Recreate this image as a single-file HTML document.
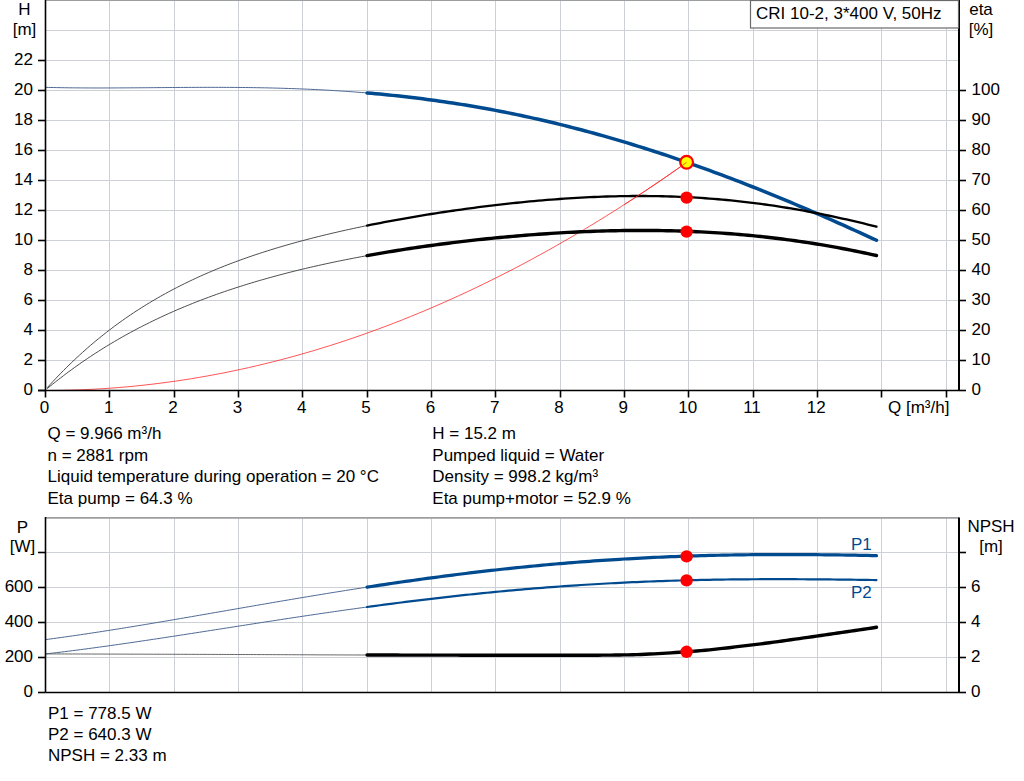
<!DOCTYPE html><html><head><meta charset="utf-8"><style>html,body{margin:0;padding:0;background:#fff;}svg{display:block}text{font-family:"Liberation Sans",sans-serif;font-size:17px;fill:#000}</style></head><body>
<svg width="1024" height="781" viewBox="0 0 1024 781">
<line x1="109.5" y1="0" x2="109.5" y2="390.5" stroke="#cdd0d4" stroke-width="1"/>
<line x1="174.5" y1="0" x2="174.5" y2="390.5" stroke="#cdd0d4" stroke-width="1"/>
<line x1="238.5" y1="0" x2="238.5" y2="390.5" stroke="#cdd0d4" stroke-width="1"/>
<line x1="302.5" y1="0" x2="302.5" y2="390.5" stroke="#cdd0d4" stroke-width="1"/>
<line x1="367.5" y1="0" x2="367.5" y2="390.5" stroke="#cdd0d4" stroke-width="1"/>
<line x1="431.5" y1="0" x2="431.5" y2="390.5" stroke="#cdd0d4" stroke-width="1"/>
<line x1="495.5" y1="0" x2="495.5" y2="390.5" stroke="#cdd0d4" stroke-width="1"/>
<line x1="560.5" y1="0" x2="560.5" y2="390.5" stroke="#cdd0d4" stroke-width="1"/>
<line x1="624.5" y1="0" x2="624.5" y2="390.5" stroke="#cdd0d4" stroke-width="1"/>
<line x1="688.5" y1="0" x2="688.5" y2="390.5" stroke="#cdd0d4" stroke-width="1"/>
<line x1="753.5" y1="0" x2="753.5" y2="390.5" stroke="#cdd0d4" stroke-width="1"/>
<line x1="817.5" y1="0" x2="817.5" y2="390.5" stroke="#cdd0d4" stroke-width="1"/>
<line x1="881.5" y1="0" x2="881.5" y2="390.5" stroke="#cdd0d4" stroke-width="1"/>
<line x1="946.5" y1="0" x2="946.5" y2="390.5" stroke="#cdd0d4" stroke-width="1"/>
<line x1="45.5" y1="360.5" x2="959.0" y2="360.5" stroke="#cdd0d4" stroke-width="1"/>
<line x1="45.5" y1="330.5" x2="959.0" y2="330.5" stroke="#cdd0d4" stroke-width="1"/>
<line x1="45.5" y1="300.5" x2="959.0" y2="300.5" stroke="#cdd0d4" stroke-width="1"/>
<line x1="45.5" y1="270.5" x2="959.0" y2="270.5" stroke="#cdd0d4" stroke-width="1"/>
<line x1="45.5" y1="240.5" x2="959.0" y2="240.5" stroke="#cdd0d4" stroke-width="1"/>
<line x1="45.5" y1="210.5" x2="959.0" y2="210.5" stroke="#cdd0d4" stroke-width="1"/>
<line x1="45.5" y1="180.5" x2="959.0" y2="180.5" stroke="#cdd0d4" stroke-width="1"/>
<line x1="45.5" y1="150.5" x2="959.0" y2="150.5" stroke="#cdd0d4" stroke-width="1"/>
<line x1="45.5" y1="120.5" x2="959.0" y2="120.5" stroke="#cdd0d4" stroke-width="1"/>
<line x1="45.5" y1="90.5" x2="959.0" y2="90.5" stroke="#cdd0d4" stroke-width="1"/>
<line x1="45.5" y1="60.5" x2="959.0" y2="60.5" stroke="#cdd0d4" stroke-width="1"/>
<line x1="45.5" y1="30.5" x2="959.0" y2="30.5" stroke="#cdd0d4" stroke-width="1"/>
<line x1="45.5" y1="0.5" x2="959.0" y2="0.5" stroke="#cdd0d4" stroke-width="1"/>
<line x1="45.5" y1="0.5" x2="959.0" y2="0.5" stroke="#9c9ea0" stroke-width="1"/>
<path d="M45.50,390.50 L53.61,390.46 L61.73,390.35 L69.84,390.17 L77.95,389.92 L86.07,389.59 L94.18,389.18 L102.30,388.71 L110.41,388.16 L118.52,387.54 L126.64,386.85 L134.75,386.08 L142.86,385.24 L150.98,384.33 L159.09,383.34 L167.21,382.28 L175.32,381.15 L183.43,379.94 L191.55,378.66 L199.66,377.31 L207.77,375.89 L215.89,374.39 L224.00,372.82 L232.11,371.17 L240.23,369.46 L248.34,367.67 L256.46,365.80 L264.57,363.87 L272.68,361.86 L280.80,359.78 L288.91,357.62 L297.02,355.39 L305.14,353.09 L313.25,350.72 L321.36,348.27 L329.48,345.75 L337.59,343.15 L345.71,340.49 L353.82,337.75 L361.93,334.93 L370.05,332.05 L378.16,329.09 L386.27,326.06 L394.39,322.95 L402.50,319.77 L410.62,316.52 L418.73,313.20 L426.84,309.80 L434.96,306.33 L443.07,302.79 L451.18,299.17 L459.30,295.48 L467.41,291.72 L475.52,287.88 L483.64,283.97 L491.75,279.99 L499.87,275.93 L507.98,271.81 L516.09,267.60 L524.21,263.33 L532.32,258.98 L540.43,254.56 L548.55,250.07 L556.66,245.50 L564.77,240.86 L572.89,236.15 L581.00,231.36 L589.12,226.51 L597.23,221.57 L605.34,216.57 L613.46,211.49 L621.57,206.34 L629.68,201.11 L637.80,195.82 L645.91,190.45 L654.03,185.00 L662.14,179.49 L670.25,173.90 L678.37,168.24 L686.48,162.50" fill="none" stroke="#ff2a2a" stroke-width="0.8"/>
<path d="M45.50,87.33 L48.20,87.41 L50.90,87.47 L53.61,87.53 L56.31,87.59 L59.01,87.64 L61.71,87.69 L64.42,87.73 L67.12,87.77 L69.82,87.80 L72.52,87.83 L75.23,87.86 L77.93,87.89 L80.63,87.91 L83.33,87.92 L86.04,87.94 L88.74,87.95 L91.44,87.96 L94.14,87.96 L96.85,87.97 L99.55,87.97 L102.25,87.97 L104.95,87.96 L107.65,87.96 L110.36,87.95 L113.06,87.94 L115.76,87.93 L118.46,87.92 L121.17,87.90 L123.87,87.89 L126.57,87.87 L129.27,87.85 L131.98,87.83 L134.68,87.82 L137.38,87.79 L140.08,87.77 L142.79,87.75 L145.49,87.73 L148.19,87.71 L150.89,87.69 L153.60,87.66 L156.30,87.64 L159.00,87.62 L161.70,87.60 L164.40,87.57 L167.11,87.55 L169.81,87.53 L172.51,87.51 L175.21,87.49 L177.92,87.47 L180.62,87.45 L183.32,87.44 L186.02,87.42 L188.73,87.41 L191.43,87.39 L194.13,87.38 L196.83,87.37 L199.54,87.36 L202.24,87.35 L204.94,87.35 L207.64,87.34 L210.35,87.34 L213.05,87.34 L215.75,87.34 L218.45,87.35 L221.15,87.36 L223.86,87.36 L226.56,87.38 L229.26,87.39 L231.96,87.41 L234.67,87.43 L237.37,87.45 L240.07,87.47 L242.77,87.50 L245.48,87.53 L248.18,87.56 L250.88,87.60 L253.58,87.64 L256.29,87.68 L258.99,87.73 L261.69,87.78 L264.39,87.83 L267.10,87.89 L269.80,87.95 L272.50,88.01 L275.20,88.08 L277.90,88.15 L280.61,88.22 L283.31,88.30 L286.01,88.38 L288.71,88.47 L291.42,88.56 L294.12,88.65 L296.82,88.75 L299.52,88.86 L302.23,88.96 L304.93,89.08 L307.63,89.19 L310.33,89.31 L313.04,89.44 L315.74,89.57 L318.44,89.70 L321.14,89.84 L323.85,89.98 L326.55,90.13 L329.25,90.29 L331.95,90.44 L334.65,90.61 L337.36,90.78 L340.06,90.95 L342.76,91.13 L345.46,91.31 L348.17,91.50 L350.87,91.69 L353.57,91.89 L356.27,92.09 L358.98,92.30 L361.68,92.51 L364.38,92.73 L367.08,92.96" fill="none" stroke="#4d6894" stroke-width="1.0" stroke-linecap="round" stroke-linejoin="round"/>
<path d="M367.08,92.96 L371.36,93.33 L375.64,93.71 L379.93,94.10 L384.21,94.51 L388.49,94.93 L392.77,95.37 L397.05,95.82 L401.33,96.29 L405.61,96.77 L409.89,97.27 L414.17,97.78 L418.45,98.30 L422.73,98.84 L427.01,99.40 L431.29,99.97 L435.57,100.55 L439.85,101.15 L444.13,101.77 L448.41,102.40 L452.69,103.05 L456.98,103.71 L461.26,104.39 L465.54,105.08 L469.82,105.79 L474.10,106.52 L478.38,107.26 L482.66,108.01 L486.94,108.79 L491.22,109.57 L495.50,110.38 L499.78,111.20 L504.06,112.04 L508.34,112.89 L512.62,113.76 L516.90,114.64 L521.18,115.54 L525.46,116.46 L529.75,117.39 L534.03,118.34 L538.31,119.30 L542.59,120.28 L546.87,121.28 L551.15,122.29 L555.43,123.31 L559.71,124.36 L563.99,125.42 L568.27,126.49 L572.55,127.58 L576.83,128.69 L581.11,129.81 L585.39,130.95 L589.67,132.10 L593.95,133.27 L598.23,134.45 L602.51,135.65 L606.80,136.87 L611.08,138.10 L615.36,139.35 L619.64,140.61 L623.92,141.88 L628.20,143.17 L632.48,144.48 L636.76,145.80 L641.04,147.13 L645.32,148.48 L649.60,149.85 L653.88,151.23 L658.16,152.62 L662.44,154.03 L666.72,155.45 L671.00,156.89 L675.28,158.34 L679.57,159.81 L683.85,161.29 L688.13,162.78 L692.41,164.28 L696.69,165.80 L700.97,167.34 L705.25,168.88 L709.53,170.44 L713.81,172.02 L718.09,173.60 L722.37,175.20 L726.65,176.82 L730.93,178.44 L735.21,180.08 L739.49,181.73 L743.77,183.39 L748.05,185.06 L752.33,186.75 L756.62,188.45 L760.90,190.16 L765.18,191.88 L769.46,193.61 L773.74,195.36 L778.02,197.11 L782.30,198.88 L786.58,200.66 L790.86,202.45 L795.14,204.25 L799.42,206.06 L803.70,207.88 L807.98,209.71 L812.26,211.55 L816.54,213.40 L820.82,215.26 L825.10,217.13 L829.39,219.01 L833.67,220.90 L837.95,222.80 L842.23,224.71 L846.51,226.62 L850.79,228.55 L855.07,230.48 L859.35,232.42 L863.63,234.38 L867.91,236.33 L872.19,238.30 L876.47,240.28" fill="none" stroke="#004a8f" stroke-width="3.5" stroke-linecap="round" stroke-linejoin="round"/>
<path d="M47.43,387.50 L50.12,384.55 L52.80,381.64 L55.49,378.78 L58.17,375.97 L60.86,373.19 L63.55,370.47 L66.23,367.78 L68.92,365.14 L71.60,362.54 L74.29,359.98 L76.98,357.47 L79.66,354.99 L82.35,352.55 L85.04,350.15 L87.72,347.79 L90.41,345.47 L93.09,343.18 L95.78,340.93 L98.47,338.72 L101.15,336.54 L103.84,334.40 L106.53,332.29 L109.21,330.21 L111.90,328.17 L114.58,326.16 L117.27,324.18 L119.96,322.23 L122.64,320.32 L125.33,318.43 L128.01,316.57 L130.70,314.75 L133.39,312.95 L136.07,311.18 L138.76,309.44 L141.45,307.73 L144.13,306.04 L146.82,304.38 L149.50,302.75 L152.19,301.14 L154.88,299.56 L157.56,298.00 L160.25,296.46 L162.93,294.96 L165.62,293.47 L168.31,292.01 L170.99,290.56 L173.68,289.15 L176.37,287.75 L179.05,286.37 L181.74,285.02 L184.42,283.69 L187.11,282.37 L189.80,281.08 L192.48,279.81 L195.17,278.55 L197.85,277.32 L200.54,276.10 L203.23,274.90 L205.91,273.72 L208.60,272.56 L211.29,271.41 L213.97,270.28 L216.66,269.17 L219.34,268.07 L222.03,266.99 L224.72,265.93 L227.40,264.88 L230.09,263.84 L232.77,262.82 L235.46,261.82 L238.15,260.83 L240.83,259.85 L243.52,258.89 L246.21,257.94 L248.89,257.00 L251.58,256.08 L254.26,255.16 L256.95,254.26 L259.64,253.38 L262.32,252.50 L265.01,251.64 L267.70,250.79 L270.38,249.94 L273.07,249.11 L275.75,248.29 L278.44,247.49 L281.13,246.69 L283.81,245.90 L286.50,245.12 L289.18,244.35 L291.87,243.59 L294.56,242.84 L297.24,242.10 L299.93,241.37 L302.62,240.65 L305.30,239.94 L307.99,239.23 L310.67,238.53 L313.36,237.85 L316.05,237.17 L318.73,236.49 L321.42,235.83 L324.10,235.17 L326.79,234.52 L329.48,233.88 L332.16,233.24 L334.85,232.62 L337.54,232.00 L340.22,231.38 L342.91,230.77 L345.59,230.17 L348.28,229.58 L350.97,228.99 L353.65,228.41 L356.34,227.83 L359.02,227.27 L361.71,226.70 L364.40,226.15 L367.08,225.59" fill="none" stroke="#383838" stroke-width="0.9" stroke-linecap="round" stroke-linejoin="round"/>
<path d="M47.43,388.38 L50.12,386.18 L52.80,384.01 L55.49,381.87 L58.17,379.76 L60.86,377.68 L63.55,375.63 L66.23,373.60 L68.92,371.60 L71.60,369.63 L74.29,367.68 L76.98,365.76 L79.66,363.87 L82.35,362.00 L85.04,360.15 L87.72,358.33 L90.41,356.54 L93.09,354.77 L95.78,353.02 L98.47,351.30 L101.15,349.60 L103.84,347.92 L106.53,346.26 L109.21,344.63 L111.90,343.02 L114.58,341.43 L117.27,339.86 L119.96,338.31 L122.64,336.78 L125.33,335.28 L128.01,333.79 L130.70,332.32 L133.39,330.88 L136.07,329.45 L138.76,328.04 L141.45,326.65 L144.13,325.28 L146.82,323.93 L149.50,322.59 L152.19,321.27 L154.88,319.97 L157.56,318.69 L160.25,317.43 L162.93,316.18 L165.62,314.94 L168.31,313.73 L170.99,312.53 L173.68,311.34 L176.37,310.17 L179.05,309.02 L181.74,307.88 L184.42,306.76 L187.11,305.65 L189.80,304.55 L192.48,303.47 L195.17,302.40 L197.85,301.35 L200.54,300.31 L203.23,299.29 L205.91,298.27 L208.60,297.27 L211.29,296.29 L213.97,295.31 L216.66,294.35 L219.34,293.40 L222.03,292.46 L224.72,291.54 L227.40,290.62 L230.09,289.72 L232.77,288.83 L235.46,287.95 L238.15,287.08 L240.83,286.22 L243.52,285.38 L246.21,284.54 L248.89,283.71 L251.58,282.90 L254.26,282.09 L256.95,281.30 L259.64,280.51 L262.32,279.73 L265.01,278.97 L267.70,278.21 L270.38,277.46 L273.07,276.72 L275.75,275.99 L278.44,275.27 L281.13,274.55 L283.81,273.85 L286.50,273.15 L289.18,272.46 L291.87,271.78 L294.56,271.11 L297.24,270.45 L299.93,269.79 L302.62,269.14 L305.30,268.50 L307.99,267.87 L310.67,267.24 L313.36,266.63 L316.05,266.01 L318.73,265.41 L321.42,264.81 L324.10,264.22 L326.79,263.64 L329.48,263.06 L332.16,262.49 L334.85,261.93 L337.54,261.37 L340.22,260.82 L342.91,260.28 L345.59,259.74 L348.28,259.21 L350.97,258.68 L353.65,258.16 L356.34,257.65 L359.02,257.14 L361.71,256.63 L364.40,256.14 L367.08,255.65" fill="none" stroke="#383838" stroke-width="0.9" stroke-linecap="round" stroke-linejoin="round"/>
<path d="M367.08,225.59 L371.36,224.73 L375.64,223.88 L379.93,223.04 L384.21,222.21 L388.49,221.40 L392.77,220.61 L397.05,219.82 L401.33,219.05 L405.61,218.29 L409.89,217.55 L414.17,216.81 L418.45,216.09 L422.73,215.38 L427.01,214.68 L431.29,214.00 L435.57,213.32 L439.85,212.66 L444.13,212.01 L448.41,211.37 L452.69,210.74 L456.98,210.13 L461.26,209.52 L465.54,208.93 L469.82,208.35 L474.10,207.78 L478.38,207.22 L482.66,206.67 L486.94,206.14 L491.22,205.62 L495.50,205.11 L499.78,204.61 L504.06,204.12 L508.34,203.65 L512.62,203.19 L516.90,202.74 L521.18,202.30 L525.46,201.88 L529.75,201.47 L534.03,201.07 L538.31,200.69 L542.59,200.32 L546.87,199.96 L551.15,199.62 L555.43,199.29 L559.71,198.98 L563.99,198.68 L568.27,198.39 L572.55,198.12 L576.83,197.87 L581.11,197.63 L585.39,197.40 L589.67,197.20 L593.95,197.00 L598.23,196.83 L602.51,196.67 L606.80,196.52 L611.08,196.39 L615.36,196.28 L619.64,196.19 L623.92,196.12 L628.20,196.06 L632.48,196.02 L636.76,196.00 L641.04,195.99 L645.32,196.01 L649.60,196.04 L653.88,196.09 L658.16,196.16 L662.44,196.25 L666.72,196.36 L671.00,196.49 L675.28,196.64 L679.57,196.80 L683.85,196.99 L688.13,197.20 L692.41,197.43 L696.69,197.68 L700.97,197.95 L705.25,198.24 L709.53,198.55 L713.81,198.88 L718.09,199.23 L722.37,199.60 L726.65,200.00 L730.93,200.41 L735.21,200.85 L739.49,201.31 L743.77,201.79 L748.05,202.29 L752.33,202.81 L756.62,203.35 L760.90,203.92 L765.18,204.50 L769.46,205.11 L773.74,205.73 L778.02,206.38 L782.30,207.05 L786.58,207.74 L790.86,208.45 L795.14,209.18 L799.42,209.93 L803.70,210.71 L807.98,211.50 L812.26,212.31 L816.54,213.14 L820.82,213.99 L825.10,214.86 L829.39,215.75 L833.67,216.65 L837.95,217.58 L842.23,218.52 L846.51,219.48 L850.79,220.46 L855.07,221.45 L859.35,222.46 L863.63,223.48 L867.91,224.52 L872.19,225.58 L876.47,226.65" fill="none" stroke="#000" stroke-width="2.3" stroke-linecap="round" stroke-linejoin="round"/>
<path d="M367.08,255.65 L371.36,254.88 L375.64,254.12 L379.93,253.38 L384.21,252.65 L388.49,251.93 L392.77,251.22 L397.05,250.53 L401.33,249.86 L405.61,249.19 L409.89,248.54 L414.17,247.90 L418.45,247.27 L422.73,246.65 L427.01,246.05 L431.29,245.45 L435.57,244.87 L439.85,244.30 L444.13,243.74 L448.41,243.20 L452.69,242.66 L456.98,242.14 L461.26,241.62 L465.54,241.12 L469.82,240.63 L474.10,240.15 L478.38,239.68 L482.66,239.22 L486.94,238.78 L491.22,238.34 L495.50,237.92 L499.78,237.50 L504.06,237.10 L508.34,236.71 L512.62,236.33 L516.90,235.96 L521.18,235.60 L525.46,235.25 L529.75,234.92 L534.03,234.59 L538.31,234.28 L542.59,233.98 L546.87,233.69 L551.15,233.41 L555.43,233.15 L559.71,232.89 L563.99,232.65 L568.27,232.42 L572.55,232.20 L576.83,232.00 L581.11,231.80 L585.39,231.62 L589.67,231.45 L593.95,231.30 L598.23,231.15 L602.51,231.02 L606.80,230.91 L611.08,230.80 L615.36,230.71 L619.64,230.63 L623.92,230.57 L628.20,230.52 L632.48,230.48 L636.76,230.46 L641.04,230.45 L645.32,230.46 L649.60,230.48 L653.88,230.52 L658.16,230.56 L662.44,230.63 L666.72,230.71 L671.00,230.80 L675.28,230.91 L679.57,231.04 L683.85,231.18 L688.13,231.34 L692.41,231.51 L696.69,231.70 L700.97,231.90 L705.25,232.12 L709.53,232.36 L713.81,232.61 L718.09,232.88 L722.37,233.17 L726.65,233.47 L730.93,233.79 L735.21,234.13 L739.49,234.49 L743.77,234.86 L748.05,235.25 L752.33,235.66 L756.62,236.08 L760.90,236.53 L765.18,236.99 L769.46,237.47 L773.74,237.96 L778.02,238.48 L782.30,239.02 L786.58,239.57 L790.86,240.14 L795.14,240.73 L799.42,241.34 L803.70,241.96 L807.98,242.61 L812.26,243.28 L816.54,243.96 L820.82,244.66 L825.10,245.38 L829.39,246.12 L833.67,246.88 L837.95,247.66 L842.23,248.46 L846.51,249.28 L850.79,250.11 L855.07,250.97 L859.35,251.84 L863.63,252.74 L867.91,253.65 L872.19,254.58 L876.47,255.53" fill="none" stroke="#000" stroke-width="3.4" stroke-linecap="round" stroke-linejoin="round"/>
<line x1="45.5" y1="0" x2="45.5" y2="397.5" stroke="#000" stroke-width="1.6"/>
<line x1="38" y1="390.5" x2="959.0" y2="390.5" stroke="#000" stroke-width="1.6"/>
<line x1="959.0" y1="0" x2="959.0" y2="390.5" stroke="#000" stroke-width="2"/>
<line x1="38" y1="390.5" x2="45.5" y2="390.5" stroke="#000" stroke-width="1.6"/>
<line x1="38" y1="360.5" x2="45.5" y2="360.5" stroke="#000" stroke-width="1.6"/>
<line x1="38" y1="330.5" x2="45.5" y2="330.5" stroke="#000" stroke-width="1.6"/>
<line x1="38" y1="300.5" x2="45.5" y2="300.5" stroke="#000" stroke-width="1.6"/>
<line x1="38" y1="270.5" x2="45.5" y2="270.5" stroke="#000" stroke-width="1.6"/>
<line x1="38" y1="240.5" x2="45.5" y2="240.5" stroke="#000" stroke-width="1.6"/>
<line x1="38" y1="210.5" x2="45.5" y2="210.5" stroke="#000" stroke-width="1.6"/>
<line x1="38" y1="180.5" x2="45.5" y2="180.5" stroke="#000" stroke-width="1.6"/>
<line x1="38" y1="150.5" x2="45.5" y2="150.5" stroke="#000" stroke-width="1.6"/>
<line x1="38" y1="120.5" x2="45.5" y2="120.5" stroke="#000" stroke-width="1.6"/>
<line x1="38" y1="90.5" x2="45.5" y2="90.5" stroke="#000" stroke-width="1.6"/>
<line x1="38" y1="60.5" x2="45.5" y2="60.5" stroke="#000" stroke-width="1.6"/>
<line x1="959.0" y1="390.5" x2="966" y2="390.5" stroke="#000" stroke-width="1.6"/>
<line x1="959.0" y1="360.5" x2="966" y2="360.5" stroke="#000" stroke-width="1.6"/>
<line x1="959.0" y1="330.5" x2="966" y2="330.5" stroke="#000" stroke-width="1.6"/>
<line x1="959.0" y1="300.5" x2="966" y2="300.5" stroke="#000" stroke-width="1.6"/>
<line x1="959.0" y1="270.5" x2="966" y2="270.5" stroke="#000" stroke-width="1.6"/>
<line x1="959.0" y1="240.5" x2="966" y2="240.5" stroke="#000" stroke-width="1.6"/>
<line x1="959.0" y1="210.5" x2="966" y2="210.5" stroke="#000" stroke-width="1.6"/>
<line x1="959.0" y1="180.5" x2="966" y2="180.5" stroke="#000" stroke-width="1.6"/>
<line x1="959.0" y1="150.5" x2="966" y2="150.5" stroke="#000" stroke-width="1.6"/>
<line x1="959.0" y1="120.5" x2="966" y2="120.5" stroke="#000" stroke-width="1.6"/>
<line x1="959.0" y1="90.5" x2="966" y2="90.5" stroke="#000" stroke-width="1.6"/>
<line x1="109.5" y1="390.5" x2="109.5" y2="397.5" stroke="#000" stroke-width="1.6"/>
<line x1="174.5" y1="390.5" x2="174.5" y2="397.5" stroke="#000" stroke-width="1.6"/>
<line x1="238.5" y1="390.5" x2="238.5" y2="397.5" stroke="#000" stroke-width="1.6"/>
<line x1="302.5" y1="390.5" x2="302.5" y2="397.5" stroke="#000" stroke-width="1.6"/>
<line x1="367.5" y1="390.5" x2="367.5" y2="397.5" stroke="#000" stroke-width="1.6"/>
<line x1="431.5" y1="390.5" x2="431.5" y2="397.5" stroke="#000" stroke-width="1.6"/>
<line x1="495.5" y1="390.5" x2="495.5" y2="397.5" stroke="#000" stroke-width="1.6"/>
<line x1="560.5" y1="390.5" x2="560.5" y2="397.5" stroke="#000" stroke-width="1.6"/>
<line x1="624.5" y1="390.5" x2="624.5" y2="397.5" stroke="#000" stroke-width="1.6"/>
<line x1="688.5" y1="390.5" x2="688.5" y2="397.5" stroke="#000" stroke-width="1.6"/>
<line x1="753.5" y1="390.5" x2="753.5" y2="397.5" stroke="#000" stroke-width="1.6"/>
<line x1="817.5" y1="390.5" x2="817.5" y2="397.5" stroke="#000" stroke-width="1.6"/>
<line x1="881.5" y1="390.5" x2="881.5" y2="397.5" stroke="#000" stroke-width="1.6"/>
<line x1="946.5" y1="390.5" x2="946.5" y2="397.5" stroke="#000" stroke-width="1.6"/>
<text x="33" y="395.0" text-anchor="end">0</text>
<text x="33" y="365.0" text-anchor="end">2</text>
<text x="33" y="335.0" text-anchor="end">4</text>
<text x="33" y="305.0" text-anchor="end">6</text>
<text x="33" y="275.0" text-anchor="end">8</text>
<text x="33" y="245.0" text-anchor="end">10</text>
<text x="33" y="215.0" text-anchor="end">12</text>
<text x="33" y="185.0" text-anchor="end">14</text>
<text x="33" y="155.0" text-anchor="end">16</text>
<text x="33" y="125.0" text-anchor="end">18</text>
<text x="33" y="95.0" text-anchor="end">20</text>
<text x="33" y="65.0" text-anchor="end">22</text>
<text x="24.5" y="14.8" text-anchor="middle">H</text>
<text x="24.5" y="34.5" text-anchor="middle">[m]</text>
<text x="971.5" y="395.0">0</text>
<text x="971.5" y="365.0">10</text>
<text x="971.5" y="335.0">20</text>
<text x="971.5" y="305.0">30</text>
<text x="971.5" y="275.0">40</text>
<text x="971.5" y="245.0">50</text>
<text x="971.5" y="215.0">60</text>
<text x="971.5" y="185.0">70</text>
<text x="971.5" y="155.0">80</text>
<text x="971.5" y="125.0">90</text>
<text x="971.5" y="95.0">100</text>
<text x="981" y="14.8" text-anchor="middle">eta</text>
<text x="981" y="34.5" text-anchor="middle">[%]</text>
<text x="44.5" y="412.5" text-anchor="middle">0</text>
<text x="108.8" y="412.5" text-anchor="middle">1</text>
<text x="173.1" y="412.5" text-anchor="middle">2</text>
<text x="237.4" y="412.5" text-anchor="middle">3</text>
<text x="301.8" y="412.5" text-anchor="middle">4</text>
<text x="366.1" y="412.5" text-anchor="middle">5</text>
<text x="430.4" y="412.5" text-anchor="middle">6</text>
<text x="494.7" y="412.5" text-anchor="middle">7</text>
<text x="559.0" y="412.5" text-anchor="middle">8</text>
<text x="623.3" y="412.5" text-anchor="middle">9</text>
<text x="687.7" y="412.5" text-anchor="middle">10</text>
<text x="752.0" y="412.5" text-anchor="middle">11</text>
<text x="816.3" y="412.5" text-anchor="middle">12</text>
<text x="888" y="412.5">Q [m³/h]</text>
<rect x="750.5" y="0.5" width="208" height="27.5" fill="#fff" stroke="#6a6a6a" stroke-width="1.2"/>
<text x="756" y="18.75">CRI 10-2, 3*400 V, 50Hz</text>
<circle cx="686.6" cy="162.3" r="6.4" fill="#ffff00" stroke="#ff0000" stroke-width="2.2"/>
<path d="M624.35,204.56 L627.62,202.45 L630.89,200.33 L634.16,198.20 L637.43,196.06 L640.70,193.91 L643.97,191.74 L647.24,189.56 L650.51,187.37 L653.78,185.17 L657.05,182.96 L660.32,180.73 L663.59,178.49 L666.86,176.24 L670.13,173.98 L673.40,171.71 L676.67,169.43 L679.94,167.13 L683.21,164.82 L686.48,162.50" fill="none" stroke="#ff2a2a" stroke-width="0.8"/>
<circle cx="686.6" cy="197.6" r="6.2" fill="#ff0000"/>
<circle cx="686.6" cy="231.6" r="6.2" fill="#ff0000"/>
<text x="47.5" y="439.3">Q = 9.966 m³/h</text>
<text x="47.5" y="460.8">n = 2881 rpm</text>
<text x="47.5" y="482.3">Liquid temperature during operation = 20 °C</text>
<text x="47.5" y="503.8">Eta pump = 64.3 %</text>
<text x="432.3" y="439.3">H = 15.2 m</text>
<text x="432.3" y="460.8">Pumped liquid = Water</text>
<text x="432.3" y="482.3">Density = 998.2 kg/m³</text>
<text x="432.3" y="503.8">Eta pump+motor = 52.9 %</text>
<line x1="109.5" y1="517.5" x2="109.5" y2="692.5" stroke="#cdd0d4" stroke-width="1"/>
<line x1="174.5" y1="517.5" x2="174.5" y2="692.5" stroke="#cdd0d4" stroke-width="1"/>
<line x1="238.5" y1="517.5" x2="238.5" y2="692.5" stroke="#cdd0d4" stroke-width="1"/>
<line x1="302.5" y1="517.5" x2="302.5" y2="692.5" stroke="#cdd0d4" stroke-width="1"/>
<line x1="367.5" y1="517.5" x2="367.5" y2="692.5" stroke="#cdd0d4" stroke-width="1"/>
<line x1="431.5" y1="517.5" x2="431.5" y2="692.5" stroke="#cdd0d4" stroke-width="1"/>
<line x1="495.5" y1="517.5" x2="495.5" y2="692.5" stroke="#cdd0d4" stroke-width="1"/>
<line x1="560.5" y1="517.5" x2="560.5" y2="692.5" stroke="#cdd0d4" stroke-width="1"/>
<line x1="624.5" y1="517.5" x2="624.5" y2="692.5" stroke="#cdd0d4" stroke-width="1"/>
<line x1="688.5" y1="517.5" x2="688.5" y2="692.5" stroke="#cdd0d4" stroke-width="1"/>
<line x1="753.5" y1="517.5" x2="753.5" y2="692.5" stroke="#cdd0d4" stroke-width="1"/>
<line x1="817.5" y1="517.5" x2="817.5" y2="692.5" stroke="#cdd0d4" stroke-width="1"/>
<line x1="881.5" y1="517.5" x2="881.5" y2="692.5" stroke="#cdd0d4" stroke-width="1"/>
<line x1="946.5" y1="517.5" x2="946.5" y2="692.5" stroke="#cdd0d4" stroke-width="1"/>
<line x1="45.5" y1="657.5" x2="959.0" y2="657.5" stroke="#cdd0d4" stroke-width="1"/>
<line x1="45.5" y1="622.5" x2="959.0" y2="622.5" stroke="#cdd0d4" stroke-width="1"/>
<line x1="45.5" y1="587.5" x2="959.0" y2="587.5" stroke="#cdd0d4" stroke-width="1"/>
<line x1="45.5" y1="552.5" x2="959.0" y2="552.5" stroke="#cdd0d4" stroke-width="1"/>
<line x1="45.5" y1="517.9" x2="959.0" y2="517.9" stroke="#9c9ea0" stroke-width="1.6"/>
<path d="M45.50,639.62 L48.20,639.27 L50.90,638.90 L53.61,638.54 L56.31,638.17 L59.01,637.80 L61.71,637.42 L64.42,637.04 L67.12,636.66 L69.82,636.28 L72.52,635.89 L75.23,635.50 L77.93,635.10 L80.63,634.71 L83.33,634.31 L86.04,633.90 L88.74,633.50 L91.44,633.09 L94.14,632.68 L96.85,632.27 L99.55,631.85 L102.25,631.43 L104.95,631.01 L107.65,630.59 L110.36,630.17 L113.06,629.74 L115.76,629.31 L118.46,628.88 L121.17,628.44 L123.87,628.01 L126.57,627.57 L129.27,627.13 L131.98,626.69 L134.68,626.25 L137.38,625.81 L140.08,625.36 L142.79,624.91 L145.49,624.47 L148.19,624.02 L150.89,623.56 L153.60,623.11 L156.30,622.66 L159.00,622.20 L161.70,621.75 L164.40,621.29 L167.11,620.83 L169.81,620.37 L172.51,619.91 L175.21,619.45 L177.92,618.98 L180.62,618.52 L183.32,618.06 L186.02,617.59 L188.73,617.13 L191.43,616.66 L194.13,616.19 L196.83,615.73 L199.54,615.26 L202.24,614.79 L204.94,614.32 L207.64,613.85 L210.35,613.39 L213.05,612.92 L215.75,612.45 L218.45,611.98 L221.15,611.51 L223.86,611.04 L226.56,610.57 L229.26,610.10 L231.96,609.63 L234.67,609.16 L237.37,608.69 L240.07,608.22 L242.77,607.75 L245.48,607.29 L248.18,606.82 L250.88,606.35 L253.58,605.88 L256.29,605.42 L258.99,604.95 L261.69,604.48 L264.39,604.02 L267.10,603.55 L269.80,603.09 L272.50,602.63 L275.20,602.16 L277.90,601.70 L280.61,601.24 L283.31,600.78 L286.01,600.32 L288.71,599.86 L291.42,599.41 L294.12,598.95 L296.82,598.50 L299.52,598.04 L302.23,597.59 L304.93,597.14 L307.63,596.69 L310.33,596.24 L313.04,595.79 L315.74,595.34 L318.44,594.90 L321.14,594.45 L323.85,594.01 L326.55,593.57 L329.25,593.13 L331.95,592.69 L334.65,592.25 L337.36,591.82 L340.06,591.38 L342.76,590.95 L345.46,590.52 L348.17,590.09 L350.87,589.67 L353.57,589.24 L356.27,588.82 L358.98,588.39 L361.68,587.97 L364.38,587.56 L367.08,587.14" fill="none" stroke="#4d6894" stroke-width="1.0" stroke-linecap="round" stroke-linejoin="round"/>
<path d="M45.50,653.94 L48.20,653.63 L50.90,653.31 L53.61,653.00 L56.31,652.67 L59.01,652.35 L61.71,652.02 L64.42,651.68 L67.12,651.35 L69.82,651.01 L72.52,650.66 L75.23,650.32 L77.93,649.97 L80.63,649.62 L83.33,649.27 L86.04,648.91 L88.74,648.55 L91.44,648.19 L94.14,647.82 L96.85,647.46 L99.55,647.09 L102.25,646.71 L104.95,646.34 L107.65,645.96 L110.36,645.59 L113.06,645.20 L115.76,644.82 L118.46,644.44 L121.17,644.05 L123.87,643.66 L126.57,643.27 L129.27,642.88 L131.98,642.48 L134.68,642.09 L137.38,641.69 L140.08,641.29 L142.79,640.89 L145.49,640.49 L148.19,640.09 L150.89,639.68 L153.60,639.27 L156.30,638.87 L159.00,638.46 L161.70,638.05 L164.40,637.64 L167.11,637.23 L169.81,636.81 L172.51,636.40 L175.21,635.99 L177.92,635.57 L180.62,635.15 L183.32,634.74 L186.02,634.32 L188.73,633.90 L191.43,633.48 L194.13,633.06 L196.83,632.64 L199.54,632.22 L202.24,631.80 L204.94,631.38 L207.64,630.96 L210.35,630.54 L213.05,630.11 L215.75,629.69 L218.45,629.27 L221.15,628.85 L223.86,628.42 L226.56,628.00 L229.26,627.58 L231.96,627.16 L234.67,626.74 L237.37,626.31 L240.07,625.89 L242.77,625.47 L245.48,625.05 L248.18,624.63 L250.88,624.21 L253.58,623.79 L256.29,623.37 L258.99,622.95 L261.69,622.53 L264.39,622.11 L267.10,621.69 L269.80,621.28 L272.50,620.86 L275.20,620.45 L277.90,620.03 L280.61,619.62 L283.31,619.21 L286.01,618.79 L288.71,618.38 L291.42,617.97 L294.12,617.56 L296.82,617.15 L299.52,616.75 L302.23,616.34 L304.93,615.94 L307.63,615.53 L310.33,615.13 L313.04,614.73 L315.74,614.33 L318.44,613.93 L321.14,613.53 L323.85,613.14 L326.55,612.74 L329.25,612.35 L331.95,611.96 L334.65,611.57 L337.36,611.18 L340.06,610.79 L342.76,610.40 L345.46,610.02 L348.17,609.64 L350.87,609.26 L353.57,608.88 L356.27,608.50 L358.98,608.12 L361.68,607.75 L364.38,607.38 L367.08,607.01" fill="none" stroke="#4d6894" stroke-width="1.0" stroke-linecap="round" stroke-linejoin="round"/>
<path d="M45.50,653.90 L48.20,653.91 L50.90,653.91 L53.61,653.92 L56.31,653.93 L59.01,653.94 L61.71,653.94 L64.42,653.95 L67.12,653.96 L69.82,653.97 L72.52,653.97 L75.23,653.98 L77.93,653.99 L80.63,654.00 L83.33,654.00 L86.04,654.01 L88.74,654.02 L91.44,654.03 L94.14,654.04 L96.85,654.04 L99.55,654.05 L102.25,654.06 L104.95,654.07 L107.65,654.07 L110.36,654.08 L113.06,654.09 L115.76,654.10 L118.46,654.11 L121.17,654.12 L123.87,654.12 L126.57,654.13 L129.27,654.14 L131.98,654.15 L134.68,654.16 L137.38,654.17 L140.08,654.17 L142.79,654.18 L145.49,654.19 L148.19,654.20 L150.89,654.21 L153.60,654.22 L156.30,654.23 L159.00,654.23 L161.70,654.24 L164.40,654.25 L167.11,654.26 L169.81,654.27 L172.51,654.28 L175.21,654.29 L177.92,654.30 L180.62,654.30 L183.32,654.31 L186.02,654.32 L188.73,654.33 L191.43,654.34 L194.13,654.35 L196.83,654.36 L199.54,654.37 L202.24,654.38 L204.94,654.39 L207.64,654.39 L210.35,654.40 L213.05,654.41 L215.75,654.42 L218.45,654.43 L221.15,654.44 L223.86,654.45 L226.56,654.46 L229.26,654.47 L231.96,654.48 L234.67,654.49 L237.37,654.50 L240.07,654.51 L242.77,654.52 L245.48,654.53 L248.18,654.54 L250.88,654.55 L253.58,654.56 L256.29,654.57 L258.99,654.58 L261.69,654.59 L264.39,654.60 L267.10,654.61 L269.80,654.62 L272.50,654.64 L275.20,654.65 L277.90,654.66 L280.61,654.67 L283.31,654.68 L286.01,654.70 L288.71,654.71 L291.42,654.72 L294.12,654.73 L296.82,654.74 L299.52,654.76 L302.23,654.77 L304.93,654.78 L307.63,654.79 L310.33,654.80 L313.04,654.81 L315.74,654.83 L318.44,654.84 L321.14,654.85 L323.85,654.86 L326.55,654.87 L329.25,654.88 L331.95,654.89 L334.65,654.90 L337.36,654.91 L340.06,654.92 L342.76,654.93 L345.46,654.94 L348.17,654.95 L350.87,654.96 L353.57,654.96 L356.27,654.97 L358.98,654.98 L361.68,654.99 L364.38,654.99 L367.08,655.00" fill="none" stroke="#555" stroke-width="0.9" stroke-linecap="round" stroke-linejoin="round"/>
<path d="M367.08,587.14 L371.36,586.48 L375.64,585.83 L379.93,585.19 L384.21,584.55 L388.49,583.91 L392.77,583.28 L397.05,582.66 L401.33,582.04 L405.61,581.43 L409.89,580.82 L414.17,580.21 L418.45,579.62 L422.73,579.03 L427.01,578.44 L431.29,577.87 L435.57,577.29 L439.85,576.73 L444.13,576.17 L448.41,575.61 L452.69,575.07 L456.98,574.53 L461.26,573.99 L465.54,573.47 L469.82,572.95 L474.10,572.43 L478.38,571.92 L482.66,571.42 L486.94,570.93 L491.22,570.45 L495.50,569.97 L499.78,569.49 L504.06,569.03 L508.34,568.57 L512.62,568.12 L516.90,567.68 L521.18,567.24 L525.46,566.81 L529.75,566.39 L534.03,565.98 L538.31,565.57 L542.59,565.17 L546.87,564.78 L551.15,564.40 L555.43,564.02 L559.71,563.65 L563.99,563.29 L568.27,562.94 L572.55,562.59 L576.83,562.25 L581.11,561.92 L585.39,561.60 L589.67,561.28 L593.95,560.97 L598.23,560.67 L602.51,560.38 L606.80,560.09 L611.08,559.81 L615.36,559.54 L619.64,559.28 L623.92,559.02 L628.20,558.78 L632.48,558.54 L636.76,558.30 L641.04,558.08 L645.32,557.86 L649.60,557.65 L653.88,557.44 L658.16,557.25 L662.44,557.06 L666.72,556.88 L671.00,556.70 L675.28,556.54 L679.57,556.38 L683.85,556.22 L688.13,556.08 L692.41,555.94 L696.69,555.81 L700.97,555.68 L705.25,555.57 L709.53,555.46 L713.81,555.35 L718.09,555.25 L722.37,555.16 L726.65,555.08 L730.93,555.00 L735.21,554.93 L739.49,554.87 L743.77,554.81 L748.05,554.76 L752.33,554.71 L756.62,554.67 L760.90,554.64 L765.18,554.61 L769.46,554.59 L773.74,554.57 L778.02,554.56 L782.30,554.55 L786.58,554.55 L790.86,554.56 L795.14,554.57 L799.42,554.59 L803.70,554.61 L807.98,554.63 L812.26,554.67 L816.54,554.70 L820.82,554.74 L825.10,554.79 L829.39,554.84 L833.67,554.89 L837.95,554.95 L842.23,555.01 L846.51,555.08 L850.79,555.15 L855.07,555.22 L859.35,555.30 L863.63,555.38 L867.91,555.47 L872.19,555.55 L876.47,555.64" fill="none" stroke="#004a8f" stroke-width="3.2" stroke-linecap="round" stroke-linejoin="round"/>
<path d="M367.08,607.01 L371.36,606.42 L375.64,605.85 L379.93,605.27 L384.21,604.70 L388.49,604.14 L392.77,603.58 L397.05,603.03 L401.33,602.48 L405.61,601.94 L409.89,601.40 L414.17,600.87 L418.45,600.34 L422.73,599.82 L427.01,599.31 L431.29,598.80 L435.57,598.29 L439.85,597.80 L444.13,597.30 L448.41,596.82 L452.69,596.34 L456.98,595.87 L461.26,595.40 L465.54,594.94 L469.82,594.49 L474.10,594.04 L478.38,593.60 L482.66,593.16 L486.94,592.73 L491.22,592.31 L495.50,591.90 L499.78,591.49 L504.06,591.09 L508.34,590.69 L512.62,590.30 L516.90,589.92 L521.18,589.55 L525.46,589.18 L529.75,588.82 L534.03,588.46 L538.31,588.12 L542.59,587.78 L546.87,587.44 L551.15,587.12 L555.43,586.80 L559.71,586.48 L563.99,586.18 L568.27,585.88 L572.55,585.59 L576.83,585.30 L581.11,585.02 L585.39,584.75 L589.67,584.49 L593.95,584.23 L598.23,583.98 L602.51,583.74 L606.80,583.50 L611.08,583.27 L615.36,583.05 L619.64,582.83 L623.92,582.62 L628.20,582.42 L632.48,582.22 L636.76,582.03 L641.04,581.85 L645.32,581.67 L649.60,581.50 L653.88,581.34 L658.16,581.18 L662.44,581.03 L666.72,580.89 L671.00,580.75 L675.28,580.62 L679.57,580.50 L683.85,580.38 L688.13,580.27 L692.41,580.16 L696.69,580.06 L700.97,579.96 L705.25,579.87 L709.53,579.79 L713.81,579.71 L718.09,579.64 L722.37,579.58 L726.65,579.51 L730.93,579.46 L735.21,579.41 L739.49,579.36 L743.77,579.32 L748.05,579.29 L752.33,579.26 L756.62,579.24 L760.90,579.22 L765.18,579.20 L769.46,579.19 L773.74,579.18 L778.02,579.18 L782.30,579.18 L786.58,579.19 L790.86,579.20 L795.14,579.21 L799.42,579.23 L803.70,579.25 L807.98,579.28 L812.26,579.31 L816.54,579.34 L820.82,579.38 L825.10,579.41 L829.39,579.46 L833.67,579.50 L837.95,579.55 L842.23,579.60 L846.51,579.65 L850.79,579.70 L855.07,579.76 L859.35,579.82 L863.63,579.88 L867.91,579.94 L872.19,580.00 L876.47,580.07" fill="none" stroke="#004a8f" stroke-width="2.2" stroke-linecap="round" stroke-linejoin="round"/>
<path d="M367.08,655.00 L371.36,655.01 L375.64,655.02 L379.93,655.03 L384.21,655.04 L388.49,655.05 L392.77,655.06 L397.05,655.07 L401.33,655.08 L405.61,655.09 L409.89,655.09 L414.17,655.10 L418.45,655.11 L422.73,655.12 L427.01,655.13 L431.29,655.14 L435.57,655.14 L439.85,655.15 L444.13,655.16 L448.41,655.16 L452.69,655.17 L456.98,655.17 L461.26,655.18 L465.54,655.18 L469.82,655.19 L474.10,655.19 L478.38,655.19 L482.66,655.20 L486.94,655.20 L491.22,655.20 L495.50,655.20 L499.78,655.20 L504.06,655.20 L508.34,655.20 L512.62,655.20 L516.90,655.20 L521.18,655.20 L525.46,655.20 L529.75,655.20 L534.03,655.20 L538.31,655.20 L542.59,655.20 L546.87,655.20 L551.15,655.20 L555.43,655.20 L559.71,655.20 L563.99,655.20 L568.27,655.20 L572.55,655.20 L576.83,655.20 L581.11,655.20 L585.39,655.20 L589.67,655.20 L593.95,655.20 L598.23,655.19 L602.51,655.16 L606.80,655.12 L611.08,655.08 L615.36,655.03 L619.64,654.97 L623.92,654.91 L628.20,654.83 L632.48,654.73 L636.76,654.60 L641.04,654.44 L645.32,654.26 L649.60,654.06 L653.88,653.84 L658.16,653.61 L662.44,653.36 L666.72,653.10 L671.00,652.83 L675.28,652.55 L679.57,652.26 L683.85,651.98 L688.13,651.69 L692.41,651.37 L696.69,651.02 L700.97,650.64 L705.25,650.24 L709.53,649.82 L713.81,649.37 L718.09,648.91 L722.37,648.43 L726.65,647.94 L730.93,647.44 L735.21,646.93 L739.49,646.42 L743.77,645.91 L748.05,645.39 L752.33,644.88 L756.62,644.36 L760.90,643.83 L765.18,643.28 L769.46,642.72 L773.74,642.15 L778.02,641.57 L782.30,640.98 L786.58,640.38 L790.86,639.78 L795.14,639.17 L799.42,638.56 L803.70,637.94 L807.98,637.33 L812.26,636.72 L816.54,636.11 L820.82,635.50 L825.10,634.89 L829.39,634.27 L833.67,633.65 L837.95,633.03 L842.23,632.41 L846.51,631.78 L850.79,631.15 L855.07,630.52 L859.35,629.88 L863.63,629.24 L867.91,628.59 L872.19,627.95 L876.47,627.30" fill="none" stroke="#000" stroke-width="3.4" stroke-linecap="round" stroke-linejoin="round"/>
<line x1="45.5" y1="517.0" x2="45.5" y2="692.5" stroke="#000" stroke-width="1.6"/>
<line x1="45.5" y1="692.5" x2="959.0" y2="692.5" stroke="#000" stroke-width="1.6"/>
<line x1="959.0" y1="517.5" x2="959.0" y2="692.5" stroke="#000" stroke-width="2"/>
<line x1="38" y1="692.5" x2="45.5" y2="692.5" stroke="#000" stroke-width="1.6"/>
<line x1="959.0" y1="692.5" x2="966" y2="692.5" stroke="#000" stroke-width="1.6"/>
<line x1="38" y1="657.5" x2="45.5" y2="657.5" stroke="#000" stroke-width="1.6"/>
<line x1="959.0" y1="657.5" x2="966" y2="657.5" stroke="#000" stroke-width="1.6"/>
<line x1="38" y1="622.5" x2="45.5" y2="622.5" stroke="#000" stroke-width="1.6"/>
<line x1="959.0" y1="622.5" x2="966" y2="622.5" stroke="#000" stroke-width="1.6"/>
<line x1="38" y1="587.5" x2="45.5" y2="587.5" stroke="#000" stroke-width="1.6"/>
<line x1="959.0" y1="587.5" x2="966" y2="587.5" stroke="#000" stroke-width="1.6"/>
<line x1="38" y1="552.5" x2="45.5" y2="552.5" stroke="#000" stroke-width="1.6"/>
<line x1="959.0" y1="552.5" x2="966" y2="552.5" stroke="#000" stroke-width="1.6"/>
<text x="33" y="697.0" text-anchor="end">0</text>
<text x="971" y="697.0">0</text>
<text x="33" y="662.0" text-anchor="end">200</text>
<text x="971" y="662.0">2</text>
<text x="33" y="627.0" text-anchor="end">400</text>
<text x="971" y="627.0">4</text>
<text x="33" y="592.0" text-anchor="end">600</text>
<text x="971" y="592.0">6</text>
<text x="22.5" y="532.7" text-anchor="middle">P</text>
<text x="22.5" y="551.8" text-anchor="middle">[W]</text>
<text x="991" y="532.4" text-anchor="middle">NPSH</text>
<text x="991" y="551.8" text-anchor="middle">[m]</text>
<text x="851" y="550" style="fill:#004a8f">P1</text>
<text x="851" y="598" style="fill:#004a8f">P2</text>
<circle cx="686.6" cy="556.4" r="6.2" fill="#ff0000"/>
<circle cx="686.6" cy="580.4" r="6.2" fill="#ff0000"/>
<circle cx="686.6" cy="651.8" r="6.2" fill="#ff0000"/>
<text x="48" y="718.5">P1 = 778.5 W</text>
<text x="48" y="739.8">P2 = 640.3 W</text>
<text x="48" y="761.1">NPSH = 2.33 m</text>
</svg></body></html>
